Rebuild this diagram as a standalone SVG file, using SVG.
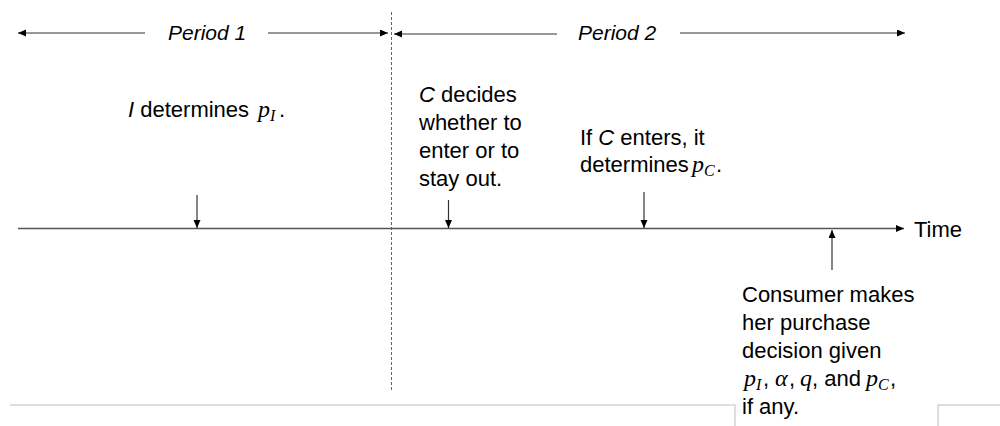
<svg xmlns="http://www.w3.org/2000/svg" width="1000" height="426" viewBox="0 0 1000 426">
<style>
.t{font-family:"Liberation Sans",Arial,sans-serif;font-size:22px;fill:#000}
.p{font-size:21px}
.it{font-style:italic}
.m{font-family:"Liberation Serif","Times New Roman",serif;font-style:italic;font-size:24px}
.ms{font-family:"Liberation Serif","Times New Roman",serif;font-style:italic;font-size:16px}
.ln{stroke:#333;stroke-width:1.2;fill:none}
.tl{stroke:#555;stroke-width:1.3;fill:none}
.pg{stroke:#d4d4d4;stroke-width:1.5;fill:none}
</style>
<defs>
<marker id="ah" markerUnits="userSpaceOnUse" markerWidth="9" markerHeight="8" refX="8" refY="3.5" orient="auto">
<path d="M0,0 L8,3.5 L0,7 Z" fill="#000"/>
</marker>
</defs>
<rect width="1000" height="426" fill="#fff"/>
<g id="page-edges">
<path class="pg" d="M10,405 H735 V426"/>
<path class="pg" d="M938,426 V405 H1000"/>
</g>
<g id="connectors">
<line class="ln" x1="145" y1="33" x2="18" y2="33" marker-end="url(#ah)"/>
<line class="ln" x1="268" y1="33" x2="388" y2="33" marker-end="url(#ah)"/>
<line class="ln" x1="557" y1="34" x2="394" y2="34" marker-end="url(#ah)"/>
<line class="ln" x1="680" y1="33" x2="905" y2="33" marker-end="url(#ah)"/>
<line x1="391.5" y1="12" x2="391.5" y2="392" stroke="#666" stroke-width="1" stroke-dasharray="3,2"/>
<line class="tl" x1="18" y1="228.5" x2="904" y2="228.5" marker-end="url(#ah)"/>
<line class="ln" x1="197" y1="195" x2="197" y2="228" marker-end="url(#ah)"/>
<line class="ln" x1="448.5" y1="200" x2="448.5" y2="228" marker-end="url(#ah)"/>
<line class="ln" x1="644" y1="192" x2="644" y2="228" marker-end="url(#ah)"/>
<line class="ln" x1="832" y1="270" x2="832" y2="230" marker-end="url(#ah)"/>
</g>
<g id="period1"><text class="t p it" x="168" y="40">Period 1</text></g>
<g id="period2"><text class="t p it" x="578" y="40">Period 2</text></g>
<g id="time"><text class="t" x="914" y="237">Time</text></g>
<g id="event-incumbent">
<text class="t" x="128" y="117"><tspan class="it">I</tspan> determines <tspan class="m" x="258">p</tspan><tspan class="ms" x="270" dy="4">I</tspan><tspan x="279" dy="-4">.</tspan></text>
</g>
<g id="event-entry">
<text class="t" x="419" y="102"><tspan class="it">C</tspan> decides</text>
<text class="t" x="419" y="130">whether to</text>
<text class="t" x="419" y="158">enter or to</text>
<text class="t" x="419" y="186">stay out.</text>
</g>
<g id="event-price">
<text class="t" x="580" y="145">If <tspan class="it">C</tspan> enters, it</text>
<text class="t" x="580" y="172">determines<tspan class="m" x="692">p</tspan><tspan class="ms" x="704" dy="4">C</tspan><tspan x="716" dy="-4">.</tspan></text>
</g>
<g id="event-consumer">
<text class="t" x="742" y="302">Consumer makes</text>
<text class="t" x="742" y="330">her purchase</text>
<text class="t" x="742" y="358">decision given</text>
<text class="t" x="742" y="386"><tspan class="m" x="744">p</tspan><tspan class="ms" x="756" dy="4">I</tspan><tspan x="763" dy="-4">,</tspan><tspan class="m" x="775">α</tspan><tspan x="789">,</tspan><tspan class="m" x="800">q</tspan><tspan x="812">, and</tspan><tspan class="m" x="866">p</tspan><tspan class="ms" x="878" dy="4">C</tspan><tspan x="890" dy="-4">,</tspan></text>
<text class="t" x="742" y="414">if any.</text>
</g>
</svg>
